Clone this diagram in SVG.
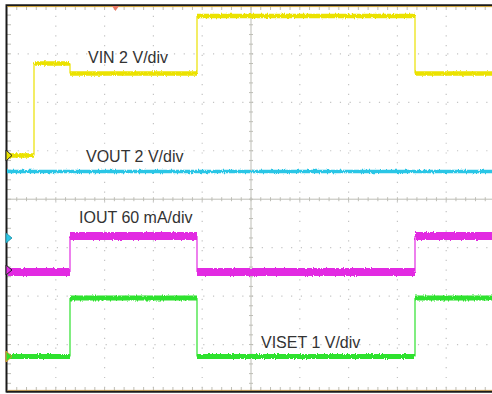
<svg xmlns="http://www.w3.org/2000/svg" width="492" height="394" viewBox="0 0 492 394">
  <defs>
    <style>
      .grid { stroke: #c4c4c4; stroke-width: 1.2; stroke-dasharray: 1.2 8.56; fill: none; }
      .axis { stroke: #bdbdb5; stroke-width: 1; fill: none; }
      .lbl { font-family: "Liberation Sans", Arial, sans-serif; font-size: 16px; fill: #333333; }
      .yel { stroke: #ebe200; fill: none; }
      .cya { stroke: #2cc6e6; fill: none; }
      .mag { stroke: #e22ce2; fill: none; }
      .grn { stroke: #2de22d; fill: none; }
    </style>
    <pattern id="tickX" patternUnits="userSpaceOnUse" x="6.5" y="0" width="9.76" height="394">
      <rect x="0" y="0" width="1" height="394" fill="#bdbdb5"/>
    </pattern>
    <pattern id="tickY" patternUnits="userSpaceOnUse" x="0" y="4.9" width="492" height="9.69">
      <rect x="0" y="0" width="492" height="1" fill="#bdbdb5"/>
    </pattern>
    <filter id="noise" filterUnits="userSpaceOnUse" x="0" y="0" width="492" height="394">
      <feTurbulence type="fractalNoise" baseFrequency="0.9 0.25" numOctaves="2" seed="3" result="t"/>
      <feDisplacementMap in="SourceGraphic" in2="t" scale="3" xChannelSelector="R" yChannelSelector="G"/>
    </filter>
  </defs>
  <rect x="0" y="0" width="492" height="394" fill="#ffffff"/>

  <g id="grid">
    <path class="grid" d="M55.8 6V391 M104.6 6V391 M153.4 6V391 M202.2 6V391 M299.8 6V391 M348.6 6V391 M397.4 6V391 M446.2 6V391"/>
    <path class="grid" d="M8 53.85H492 M8 102.3H492 M8 150.75H492 M8 247.65H492 M8 296.1H492 M8 344.55H492"/>
    <path class="axis" d="M251 6V391 M8 199.2H492"/>
    <rect x="8" y="197.2" width="484" height="4" fill="url(#tickX)"/>
    <rect x="249" y="6" width="4" height="386" fill="url(#tickY)"/>
    <rect x="8" y="6" width="484" height="4" fill="url(#tickX)"/>
    <rect x="8" y="387" width="484" height="4" fill="url(#tickX)"/>
    <rect x="7" y="6" width="4" height="386" fill="url(#tickY)"/>
  </g>

  <g id="frame">
    <path d="M6.5 392.5V5.2H492" fill="none" stroke="#1a1a1a" stroke-width="2"/>
    <path d="M7.5 6.6H492" stroke="#d0a030" stroke-width="1"/>
    <path d="M6.5 391.8H492" stroke="#1a1a1a" stroke-width="2"/>
    <path d="M7.5 390.4H492" stroke="#b89048" stroke-width="1"/>
  </g>

  <g id="vin-trace">
    <path class="yel" stroke-width="4.5" filter="url(#noise)" d="M7 155.5H34 M34 63.5H70 M70 73.5H197 M197 16H415 M415 73.5H492"/>
    <path class="yel" stroke-width="1.2" d="M34 155.5V63.5 M70 63.5V73.5 M197 73.5V16 M415 16V73.5"/>
  </g>

  <g id="vout-trace">
    <path class="cya" stroke-width="3.5" filter="url(#noise)" d="M7 171.5H492"/>
  </g>

  <g id="iout-trace">
    <path class="mag" stroke-width="8" filter="url(#noise)" d="M7 272H70 M70 236H197 M197 272H415 M415 236H492"/>
    <path class="mag" stroke-width="1.2" d="M70 272V236 M197 236V272 M415 272V236"/>
  </g>

  <g id="viset-trace">
    <path class="grn" stroke-width="5" filter="url(#noise)" d="M7 356.5H70 M70 298H197 M197 356.5H415 M415 298H492"/>
    <path class="grn" stroke-width="1.2" d="M70 356.5V298 M197 298V356.5 M415 356.5V298"/>
  </g>

  <g id="markers">
    <polygon points="6,150 12,155.5 6,161" fill="#ebe200" stroke="#222" stroke-width="1"/>
    <polygon points="6,233 12,238 6,243" fill="#2cc6e6" stroke="#1a8aa0" stroke-width="0.8"/>
    <polygon points="6,265 12,270 6,275" fill="#e22ce2" stroke="#222" stroke-width="1"/>
    <polygon points="6,351 12,356.5 6,362" fill="#2de22d" stroke="#e0902a" stroke-width="1"/>
    <polygon points="112,6 119,6 115.5,11" fill="#ea7a66"/>
  </g>

  <g id="labels">
    <text class="lbl" x="88" y="63">VIN 2 V/div</text>
    <text class="lbl" x="86" y="162">VOUT 2 V/div</text>
    <text class="lbl" x="79" y="223">IOUT 60 mA/div</text>
    <text class="lbl" x="261" y="348">VISET 1 V/div</text>
  </g>
</svg>
